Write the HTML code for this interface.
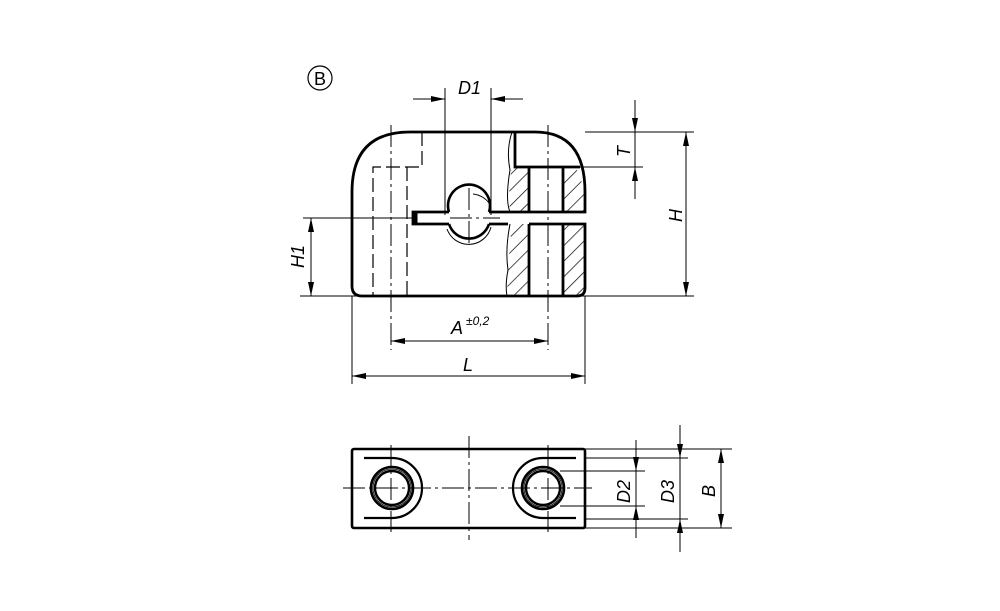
<!DOCTYPE html>
<html><head><meta charset="utf-8"><style>body{margin:0;background:#fff}svg{display:block}text{font-family:"Liberation Sans",sans-serif;font-style:italic;fill:#000}</style></head><body>
<svg width="1000" height="611" viewBox="0 0 1000 611" xmlns="http://www.w3.org/2000/svg">
<defs>
<pattern id="h" width="11" height="11" patternUnits="userSpaceOnUse" patternTransform="rotate(45)"><line x1="0" y1="0" x2="0" y2="11" stroke="#000" stroke-width="1.4"/></pattern>
</defs>
<g fill="none" stroke="#000">
<circle cx="320" cy="78" r="12" stroke-width="1.2"/>
<path d="M512,167 Q508,185 510,212 L529,212 L529,167 Z M563,167 L563,212 L585,212 L585,195 Q582,178 575,167 Z M512,224 Q508,260 507,296 L529,296 L529,224 Z M563,224 L563,296 L578,296 Q585,294 585,288 L585,224 Z" fill="url(#h)" stroke="none"/>
<path d="M515,132 L410,132 Q352,132 352,192 L352,286 Q352,296 362,296 L577,296 Q585,296 585,288 L585,224 L529,224" stroke-width="2.8"/>
<path d="M515,132 L535,132 Q585,132 585,192 L585,212 L489,212" stroke-width="2.8"/>
<path d="M515,132 L515,167 L580,167" stroke-width="2.8"/>
<path d="M449,212 L413,212 L413,224 L449,224" stroke-width="2.8"/>
<path d="M489,224 L508,224" stroke-width="2.8"/>
<line x1="529" y1="167" x2="529" y2="212" stroke-width="2.8"/>
<line x1="529" y1="224" x2="529" y2="296" stroke-width="2.8"/>
<line x1="563" y1="167" x2="563" y2="212" stroke-width="2.8"/>
<line x1="563" y1="224" x2="563" y2="296" stroke-width="2.8"/>
<path d="M449,212 A21,21 0 1 1 489,212" stroke-width="2.6"/>
<path d="M449,224 A21,21 0 0 0 489,224" stroke-width="2.6"/>
<path d="M447,229 A23,23 0 0 0 491,227 M473,194 A23,23 0 0 1 491,206" stroke-width="1"/>
<rect x="413" y="212" width="4" height="12" fill="#000"/>
<path d="M512,132 Q506,150 510,170 Q505,200 510,212 M510,224 Q505,250 508,270 Q505,285 507,296" stroke-width="1"/>
<g stroke-width="1.2" stroke-dasharray="14,5">
<path d="M422,132 L422,167 L373,167 L373,296"/>
<line x1="407" y1="167" x2="407" y2="296"/>
</g>
<g stroke-width="1" stroke-dasharray="22,4,3,4">
<line x1="391" y1="125" x2="391" y2="350"/>
<line x1="548" y1="125" x2="548" y2="350"/>
<line x1="469" y1="188" x2="469" y2="245"/>
<line x1="450" y1="218" x2="500" y2="218"/>
</g>
<g stroke-width="1">
<line x1="445" y1="88" x2="445" y2="215"/><line x1="491" y1="88" x2="491" y2="215"/>
<line x1="413" y1="99" x2="445" y2="99"/><line x1="491" y1="99" x2="523" y2="99"/>
<line x1="585" y1="132" x2="694" y2="132"/><line x1="578" y1="167" x2="643" y2="167"/>
<line x1="635" y1="100" x2="635" y2="199"/>
<line x1="686" y1="132" x2="686" y2="296"/>
<line x1="300" y1="296" x2="694" y2="296"/>
<line x1="303" y1="218" x2="413" y2="218"/>
<line x1="311" y1="218" x2="311" y2="296"/>
<line x1="352" y1="296" x2="352" y2="384"/><line x1="585" y1="296" x2="585" y2="384"/>
<line x1="391" y1="341" x2="548" y2="341"/>
<line x1="352" y1="376" x2="585" y2="376"/>
</g>
</g>
<g fill="#000">
<polygon points="445,99 431,96 431,102"/><polygon points="491,99 505,96 505,102"/>
<polygon points="635,132 632,118 638,118"/><polygon points="635,167 632,181 638,181"/>
<polygon points="686,132 683,146 689,146"/><polygon points="686,296 683,282 689,282"/>
<polygon points="311,218 308,232 314,232"/><polygon points="311,296 308,282 314,282"/>
<polygon points="391,341 405,338 405,344"/><polygon points="548,341 534,338 534,344"/>
<polygon points="352,376 366,373 366,379"/><polygon points="585,376 571,373 571,379"/>
</g>
<text x="314" y="85" font-size="18" style="font-style:normal">B</text>
<text x="458" y="94" font-size="18">D1</text>
<text x="451" y="334" font-size="18">A</text>
<text x="466" y="325" font-size="12">±0,2</text>
<text x="463" y="371" font-size="18">L</text>
<text transform="translate(630,157) rotate(-90)" font-size="18">T</text>
<text transform="translate(682,222) rotate(-90)" font-size="18">H</text>
<text transform="translate(304,268) rotate(-90)" font-size="18">H1</text>
<g fill="none" stroke="#000">
<rect x="352" y="449" width="233" height="79" rx="2" stroke-width="2.6"/>
<path d="M364,458 L392,458 A30,30 0 0 1 392,518 L364,518" stroke-width="2.2"/>
<path d="M576,458 L543,458 A30,30 0 0 0 543,518 L576,518" stroke-width="2.2"/>
<circle cx="392" cy="488" r="21" stroke-width="2.6"/><circle cx="392" cy="488" r="17" stroke-width="2.4"/><circle cx="392" cy="488" r="19" stroke-width="0.8"/>
<circle cx="543" cy="488" r="21" stroke-width="2.6"/><circle cx="543" cy="488" r="17" stroke-width="2.4"/><circle cx="543" cy="488" r="19" stroke-width="0.8"/>
<g stroke-width="1" stroke-dasharray="22,4,3,4">
<line x1="343" y1="488" x2="592" y2="488"/>
<line x1="391" y1="445" x2="391" y2="532"/>
<line x1="469" y1="436" x2="469" y2="540"/>
<line x1="548" y1="445" x2="548" y2="532"/>
</g>
<g stroke-width="1">
<line x1="585" y1="449" x2="732" y2="449"/><line x1="585" y1="528" x2="732" y2="528"/>
<line x1="585" y1="458" x2="688" y2="458"/><line x1="585" y1="519" x2="688" y2="519"/>
<line x1="560" y1="471" x2="645" y2="471"/><line x1="560" y1="506" x2="645" y2="506"/>
<line x1="636" y1="440" x2="636" y2="538"/>
<line x1="680" y1="425" x2="680" y2="552"/>
<line x1="721" y1="449" x2="721" y2="528"/>
</g>
</g>
<g fill="#000">
<polygon points="636,471 633,457 639,457"/><polygon points="636,506 633,520 639,520"/>
<polygon points="680,458 677,444 683,444"/><polygon points="680,519 677,533 683,533"/>
<polygon points="721,449 718,463 724,463"/><polygon points="721,528 718,514 724,514"/>
</g>
<text transform="translate(630,503) rotate(-90)" font-size="18">D2</text>
<text transform="translate(674,503) rotate(-90)" font-size="18">D3</text>
<text transform="translate(715,497) rotate(-90)" font-size="18">B</text>
</svg>
</body></html>
